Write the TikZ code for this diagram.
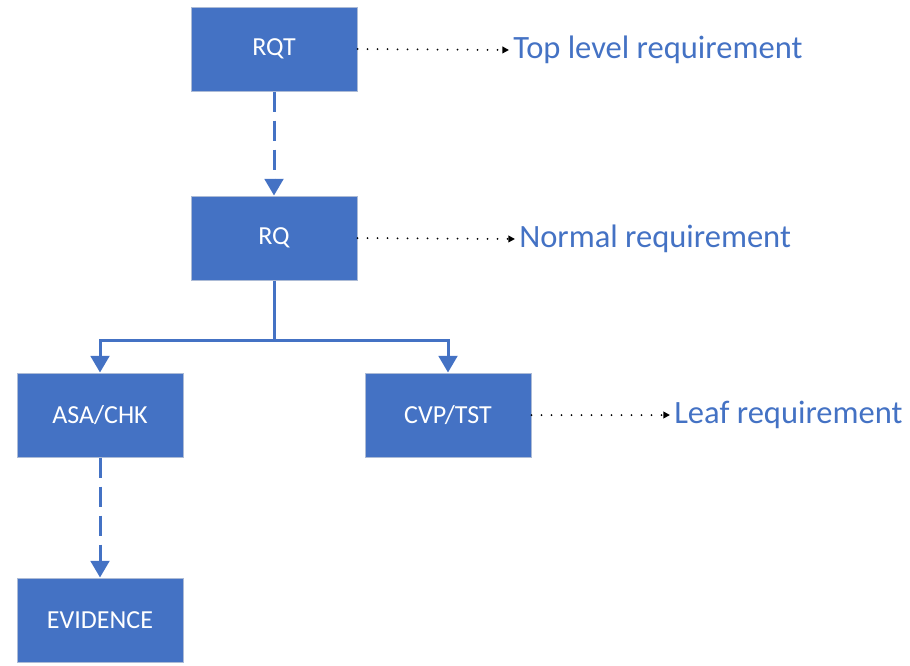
\documentclass[tikz,border=0pt]{standalone}
\usepackage{fontspec}
\setmainfont{Carlito}
\usetikzlibrary{arrows.meta, positioning}
\definecolor{boxblue}{RGB}{68, 114, 196}
\definecolor{boxedge}{RGB}{172, 187, 214}

\begin{document}
\begin{tikzpicture}[x=0.75pt, y=-0.75pt,
  block/.style={rectangle, fill=boxblue, draw=boxedge, line width=0.75pt, minimum width=124.5pt, minimum height=63pt, text=white, font=\fontsize{19.5}{23}\selectfont},
  note/.style={anchor=west, text=boxblue, inner sep=3pt, font=\fontsize{24.4}{29}\selectfont},
  flow/.style={draw=boxblue, line width=2.25pt, -{Triangle[width=14pt, length=12.5pt]}},
  link/.style={flow, dash pattern=on 15pt off 6.75pt},
  pointer/.style={black, line width=1.5pt, line cap=round, dash pattern=on 0pt off 7.5pt, -{Triangle[width=5pt, length=5pt]}}
]
  \useasboundingbox (0,0) rectangle (910,665);

  % Blocks
  \node[block] (rqt) at (274, 49) {RQT};
  \node[block] (rq) at (274, 238) {RQ};
  \node[block] (asa) at (100, 415) {ASA/CHK};
  \node[block] (cvp) at (448, 415) {CVP/TST};
  \node[block] (evid) at (100, 620) {EVIDENCE};

  % Notes
  \node[note] (toplbl) at (509, 50) {Top level requirement};
  \node[note] (normlbl) at (515, 239) {Normal requirement};
  \node[note] (leaflbl) at (670, 415) {Leaf requirement};

  % Connectors
  \coordinate (split) at (274, 340);
  \draw[link] (rqt.south) -- (rq.north);
  \draw[flow] (rq.south) -- (split) -| (asa.north);
  \draw[flow] (split) -| (cvp.north);
  \draw[link] (asa.south) -- (evid.north);

  \draw[pointer] (rqt.east) -- (toplbl.west);
  \draw[pointer] (rq.east) -- (normlbl.west);
  \draw[pointer] (cvp.east) -- (leaflbl.west);
\end{tikzpicture}
\end{document}
